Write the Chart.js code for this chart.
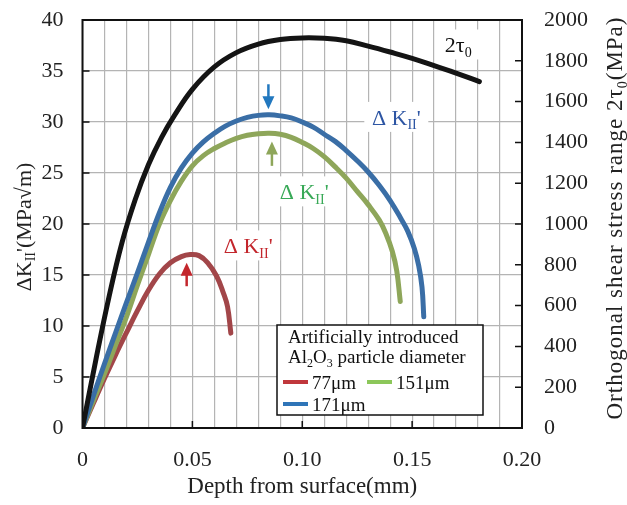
<!DOCTYPE html>
<html>
<head>
<meta charset="utf-8">
<script src="https://cdn.jsdelivr.net/npm/chart.js@4.4.1/dist/chart.umd.min.js"></script>
<style>
  html, body { margin: 0; padding: 0; background: #fff; }
  #wrap { width: 627px; height: 505px; }
</style>
</head>
<body>
<div id="wrap"><canvas id="chart" width="627" height="505"></canvas></div>
<script>
// values (depth in mm, dK in MPa√m, 2tau0 in MPa)
const depth77 = [0, 0.005, 0.010, 0.015, 0.020, 0.025, 0.030, 0.035, 0.040, 0.045, 0.049, 0.053, 0.057, 0.061, 0.064, 0.066, 0.0675]
const k77 = [0, 2.45, 4.85, 7.15, 9.35, 11.5, 13.5, 15.1, 16.2, 16.8, 17.0, 16.9, 16.2, 14.9, 13.3, 11.9, 9.3]

const depth151 = [0, 0.005, 0.010, 0.015, 0.020, 0.025, 0.030, 0.035, 0.040, 0.045, 0.050, 0.055, 0.060, 0.065, 0.070, 0.075, 0.080, 0.085, 0.090, 0.095, 0.100, 0.105, 0.110, 0.115, 0.120, 0.125, 0.130, 0.135, 0.138, 0.141, 0.143, 0.1446]
const k151 = [0, 2.7, 5.3, 8.1, 10.9, 14.0, 17.0, 20.0, 22.3, 24.2, 25.7, 26.7, 27.4, 27.95, 28.4, 28.7, 28.85, 28.9, 28.8, 28.5, 28.0, 27.4, 26.6, 25.6, 24.5, 23.2, 21.9, 20.4, 19.1, 17.3, 15.4, 12.4]

const depth171 = [0, 0.005, 0.010, 0.015, 0.020, 0.025, 0.030, 0.035, 0.040, 0.045, 0.050, 0.055, 0.060, 0.065, 0.070, 0.075, 0.080, 0.085, 0.090, 0.095, 0.100, 0.105, 0.110, 0.115, 0.120, 0.125, 0.130, 0.135, 0.140, 0.145, 0.148, 0.151, 0.153, 0.1545, 0.1553]
const k171 = [0, 3.2, 6.3, 9.3, 12.3, 15.2, 18.2, 21.1, 23.6, 25.5, 26.95, 28.05, 28.9, 29.6, 30.1, 30.45, 30.65, 30.7, 30.6, 30.4, 30.0, 29.5, 28.8, 28.1, 27.2, 26.2, 25.1, 23.8, 22.3, 20.5, 19.3, 17.6, 15.9, 13.8, 10.9]

const depthTau = [0, 0.006, 0.012, 0.018, 0.024, 0.030, 0.036, 0.042, 0.050, 0.060, 0.070, 0.080, 0.090, 0.100, 0.110, 0.120, 0.130, 0.140, 0.150, 0.160, 0.170, 0.1806]
const tau = [0, 330, 640, 910, 1120, 1290, 1425, 1535, 1660, 1770, 1840, 1882, 1904, 1912, 1910, 1898, 1872, 1843, 1812, 1776, 1740, 1698]

const xTickLabels = ['0', '0.05', '0.10', '0.15', '0.20']
const legendNames = ['77μm', '151μm', '171μm']

// arrows: [depth, from dK, to dK]
const arrow77 = [0.0474, 13.9, 16.2]
const arrow171 = [0.0846, 33.7, 31.25]
const arrow151 = [0.0862, 25.7, 28.1]

const serif = '"Liberation Serif", "Times New Roman", serif'
const colRed = '#a24649'
const colGreen = '#8ea65a'
const colBlue = '#3a6ea6'

const pts = (xs, ys) => xs.map((x, i) => ({ x: x, y: ys[i] }))

// draw text with subscript pieces
function rich(ctx, parts, x, y, align, size, spacing) {
  ctx.letterSpacing = (spacing || 0) + 'px'
  let w = 0
  parts.forEach(p => {
    ctx.font = (p.sub ? Math.round(size * 0.62) : size) + 'px ' + serif
    p.w = ctx.measureText(p.t).width
    w += p.w
  })
  let cx = align === 'center' ? x - w / 2 : (align === 'right' ? x - w : x)
  ctx.textAlign = 'left'
  ctx.textBaseline = 'alphabetic'
  parts.forEach(p => {
    ctx.font = (p.sub ? Math.round(size * 0.62) : size) + 'px ' + serif
    ctx.fillText(p.t, cx, y + (p.sub ? size * 0.2 : 0))
    cx += p.w
  })
  ctx.letterSpacing = '0px'
  return w
}

function arrow(ctx, x, y0, y1, color) {
  const dir = y1 > y0 ? 1 : -1
  ctx.strokeStyle = color
  ctx.fillStyle = color
  ctx.lineWidth = 2.5
  ctx.beginPath()
  ctx.moveTo(x, y0)
  ctx.lineTo(x, y1 - dir * 10)
  ctx.stroke()
  ctx.beginPath()
  ctx.moveTo(x, y1)
  ctx.lineTo(x - 6, y1 - dir * 13)
  ctx.lineTo(x + 6, y1 - dir * 13)
  ctx.closePath()
  ctx.fill()
}

const extras = {
  id: 'extras',
  afterDraw(chart) {
    const ctx = chart.ctx
    const a = chart.chartArea
    const sx = chart.scales.x
    const sy = chart.scales.y
    const sy2 = chart.scales.y2
    ctx.save()

    // inner tick marks
    ctx.strokeStyle = '#111'
    ctx.lineWidth = 1.5
    ctx.beginPath()
    for (let v = 0.05; v < 0.2; v += 0.05) {
      const px = sx.getPixelForValue(v)
      ctx.moveTo(px, a.bottom); ctx.lineTo(px, a.bottom - 7)
    }
    for (let v = 5; v < 40; v += 5) {
      const py = sy.getPixelForValue(v)
      ctx.moveTo(a.left, py); ctx.lineTo(a.left + 7, py)
    }
    for (let v = 200; v < 2000; v += 200) {
      const py = sy2.getPixelForValue(v)
      ctx.moveTo(a.right, py); ctx.lineTo(a.right - 7, py)
    }
    ctx.stroke()

    // frame
    ctx.lineWidth = 2
    ctx.strokeRect(a.left, a.top, a.right - a.left, a.bottom - a.top)

    // arrows
    arrow(ctx, sx.getPixelForValue(arrow77[0]), sy.getPixelForValue(arrow77[1]), sy.getPixelForValue(arrow77[2]), '#c3262c')
    arrow(ctx, sx.getPixelForValue(arrow171[0]), sy.getPixelForValue(arrow171[1]), sy.getPixelForValue(arrow171[2]), '#2278bf')
    arrow(ctx, sx.getPixelForValue(arrow151[0]), sy.getPixelForValue(arrow151[1]), sy.getPixelForValue(arrow151[2]), colGreen)

    // curve labels with white boxes
    const dk = [{ t: 'Δ K' }, { t: 'II', sub: true }, { t: "'" }]
    const label = (x, y, color, parts, bw) => {
      const px = sx.getPixelForValue(x)
      const py = sy.getPixelForValue(y)
      ctx.fillStyle = '#fff'
      ctx.fillRect(px - bw / 2, py - 15, bw, 30)
      ctx.fillStyle = color
      rich(ctx, parts, px, py + 8, 'center', 22)
    }
    label(0.0754, 17.9, '#c3262c', dk, 64)
    label(0.1428, 30.5, '#2d55a3', dk, 64)
    label(0.1009, 23.2, '#38a957', dk, 64)
    label(0.171, 37.6, '#111', [{ t: '2τ' }, { t: '0', sub: true }], 44)

    // legend box
    const lx = 277, ly = 325, lw = 206, lh = 90
    ctx.fillStyle = '#fff'
    ctx.fillRect(lx, ly, lw, lh)
    ctx.strokeStyle = '#111'
    ctx.lineWidth = 1.5
    ctx.strokeRect(lx, ly, lw, lh)
    ctx.fillStyle = '#111'
    rich(ctx, [{ t: 'Artificially introduced' }], lx + 11, ly + 18, 'left', 19)
    rich(ctx, [{ t: 'Al' }, { t: '2', sub: true }, { t: 'O' }, { t: '3', sub: true }, { t: ' particle diameter' }], lx + 11, ly + 38, 'left', 19)
    const item = (x, y, color, name) => {
      ctx.strokeStyle = color
      ctx.lineWidth = 4
      ctx.beginPath()
      ctx.moveTo(x, y); ctx.lineTo(x + 25, y)
      ctx.stroke()
      ctx.fillStyle = '#111'
      rich(ctx, [{ t: name }], x + 29, y + 7, 'left', 19)
    }
    item(lx + 6, ly + 57, '#c0373c', legendNames[0])
    item(lx + 90, ly + 57, '#8cc75a', legendNames[1])
    item(lx + 6, ly + 79, '#2f75b8', legendNames[2])

    // axis titles
    ctx.fillStyle = '#222'
    ctx.save()
    ctx.translate(31, 227)
    ctx.rotate(-Math.PI / 2)
    rich(ctx, [{ t: 'ΔK' }, { t: 'II', sub: true }, { t: "'(MPa√m)" }], 0, 0, 'center', 22)
    ctx.restore()
    ctx.save()
    ctx.translate(622, 218)
    ctx.rotate(-Math.PI / 2)
    rich(ctx, [{ t: 'Orthogonal shear stress range 2τ' }, { t: '0', sub: true }, { t: '(MPa)' }], 0, 0, 'center', 23, 1.0)
    ctx.restore()

    ctx.restore()
  }
}

const line = (data, color, axis) => ({
  data: data,
  borderColor: color,
  borderWidth: 5,
  pointRadius: 0,
  tension: 0.4,
  fill: false,
  showLine: true,
  yAxisID: axis,
  borderCapStyle: 'round',
  borderJoinStyle: 'round'
})

const chart = document.querySelector('#chart').getContext('2d')

new Chart(chart, {
  type: 'scatter',
  data: {
    datasets: [
      line(pts(depthTau, tau), '#141414', 'y2'),
      line(pts(depth171, k171), colBlue, 'y'),
      line(pts(depth151, k151), colGreen, 'y'),
      line(pts(depth77, k77), colRed, 'y')
    ]
  },
  options: {
    responsive: false,
    animation: false,
    layout: { padding: { top: 20 } },
    plugins: { legend: { display: false }, tooltip: { enabled: false } },
    scales: {
      x: {
        type: 'linear',
        min: 0,
        max: 0.2,
        afterFit: s => { s.height = 77; s.paddingLeft = 0; s.paddingRight = 0 },
        afterBuildTicks: s => {
          s.ticks = []
          for (let i = 0; i <= 20; i++) s.ticks.push({ value: i / 100 })
        },
        ticks: {
          autoSkip: false,
          maxRotation: 0,
          padding: 19,
          color: '#222',
          font: { family: serif, size: 22 },
          callback: (v, i) => (i % 5 === 0 ? xTickLabels[i / 5] : '')
        },
        grid: { color: '#b4b4b4', lineWidth: 1.2, drawTicks: false },
        border: { display: false },
        title: {
          display: true,
          text: 'Depth from surface(mm)',
          color: '#222',
          font: { family: serif, size: 23 },
          padding: { top: 6 }
        }
      },
      y: {
        position: 'left',
        min: 0,
        max: 40,
        afterFit: s => { s.width = 82.5; s.paddingTop = 0; s.paddingBottom = 0 },
        ticks: { stepSize: 5, padding: 19, color: '#222', font: { family: serif, size: 22 } },
        grid: { color: '#b4b4b4', lineWidth: 1.2, drawTicks: false },
        border: { display: false }
      },
      y2: {
        position: 'right',
        min: 0,
        max: 2000,
        afterFit: s => { s.width = 105; s.paddingTop = 0; s.paddingBottom = 0 },
        ticks: { stepSize: 200, padding: 22, color: '#222', font: { family: serif, size: 22 }, callback: v => String(v) },
        grid: { display: false, drawTicks: false },
        border: { display: false }
      }
    }
  },
  plugins: [extras]
})
</script>
</body>
</html>
